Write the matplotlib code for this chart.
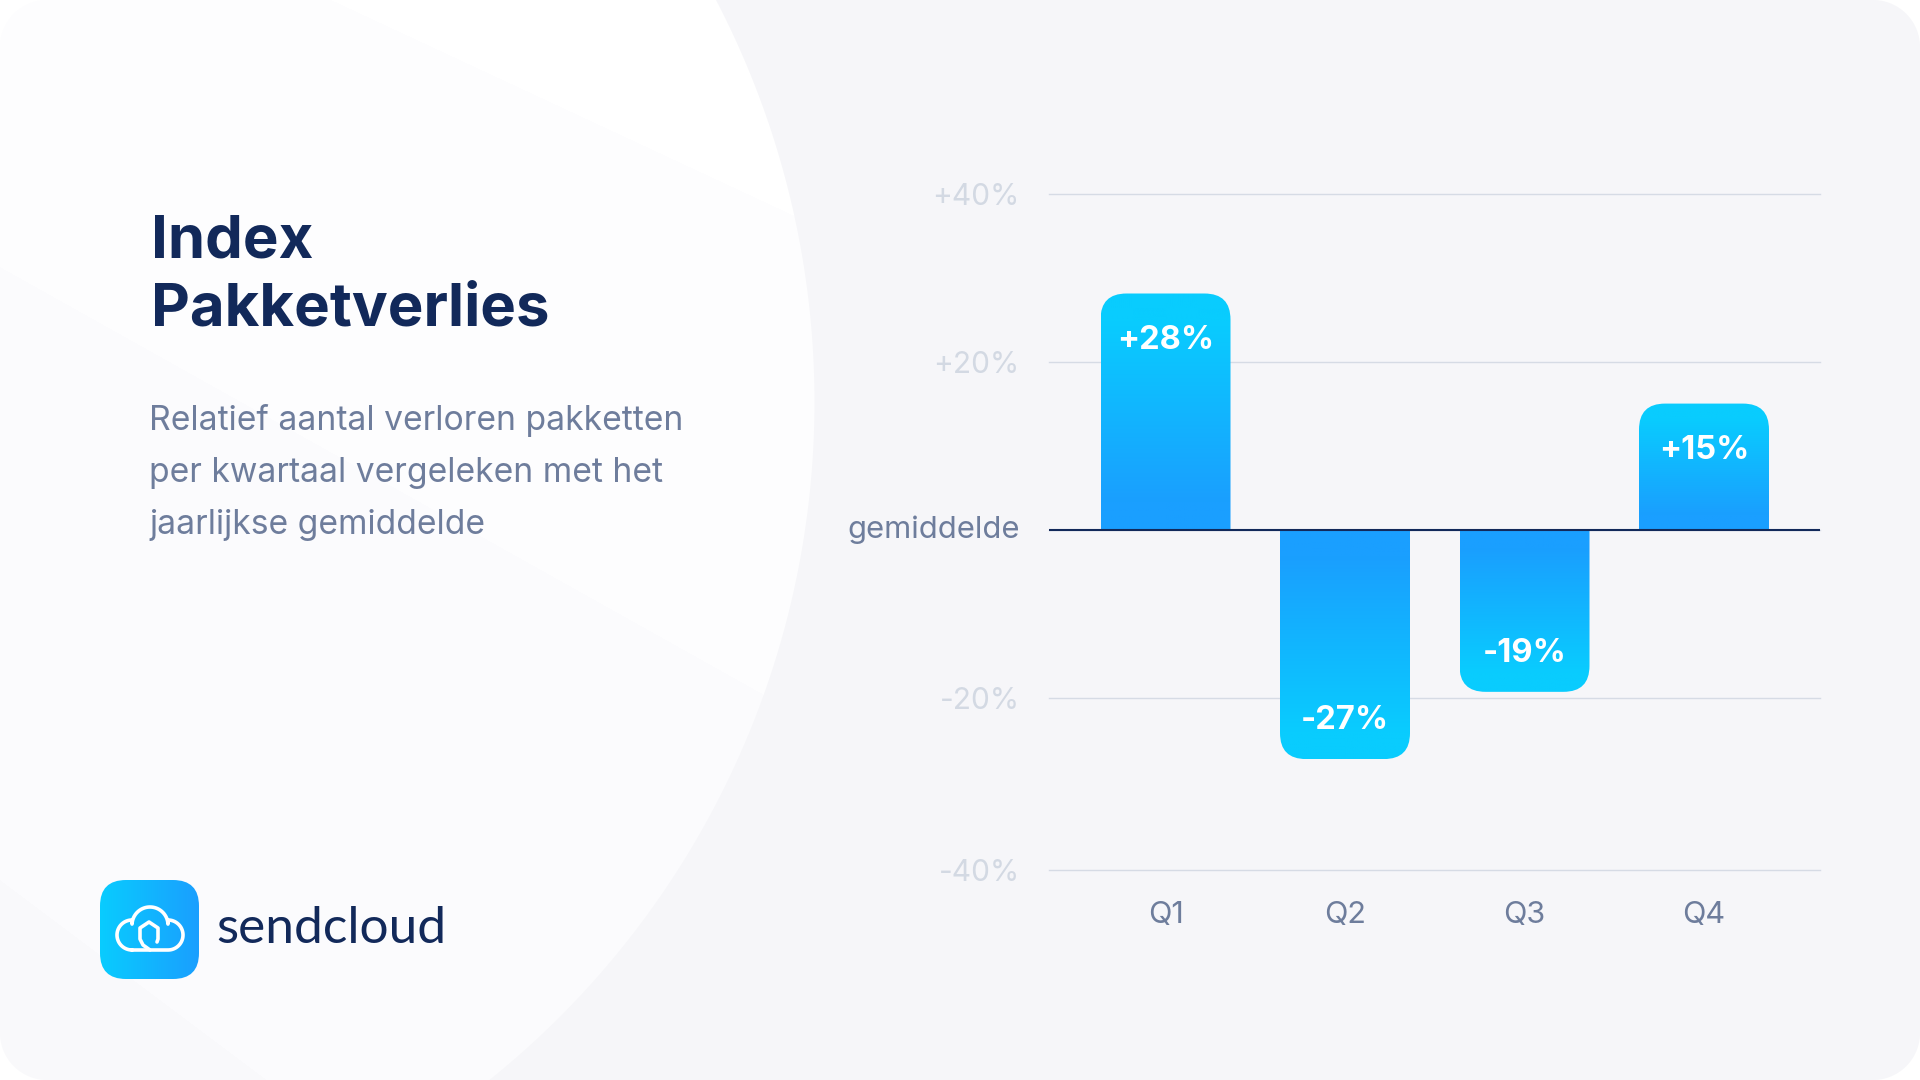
import numpy as np
import matplotlib
matplotlib.use('Agg')
import matplotlib.pyplot as plt
from matplotlib.colors import to_rgb
from matplotlib.patches import FancyBboxPatch, PathPatch
from matplotlib.path import Path

plt.rcParams['font.family'] = ['Inter', 'DejaVu Sans']

# Data
quarters = ['Q1', 'Q2', 'Q3', 'Q4']
bar_values = [28.1, -27.3, -19.3, 15.0]
bar_labels = ['+28%', '-27%', '-19%', '+15%']
# the bottom gridline sits a little lower than -40 in the original
grid_values = [40, 20, 0, -20, -40.5]
grid_labels = ['+40%', '+20%', 'gemiddelde', '-20%', '-40%']

title_lines = ['Index', 'Pakketverlies']
subtitle_lines = ['Relatief aantal verloren pakketten',
                  'per kwartaal vergeleken met het',
                  'jaarlijkse gemiddelde']

NAVY = '#12295A'
SLATE = '#6E7D9C'
PALE = '#D3D9E3'
GRID = '#D6DBE5'
LIGHT_BLUE = np.array(to_rgb('#09CCFE'))
DARK_BLUE = np.array(to_rgb('#1A9FFF'))

W, H = 1920, 1080
fig = plt.figure(figsize=(19.2, 10.8), dpi=100, facecolor='white')


# Background card, big circle and its faint diagonal bands
def make_background():
    yy, xx = np.mgrid[0:H, 0:W] + 0.5
    img = np.ones((H, W, 3)) * np.array(to_rgb('#F6F6F9'))

    disc = np.ones((H, W, 3))
    disc[yy > 33 + 0.466 * (xx - 402)] = to_rgb('#FDFDFE')
    disc[yy > 267 + 0.56 * xx] = to_rgb('#FBFBFD')
    disc[yy > 880 + 0.75 * xx] = to_rgb('#F9F9FB')
    inside = np.clip(869.5 - np.hypot((xx + 55), (yy - 402)) + 0.5, 0, 1)[..., None]
    img = img * (1 - inside) + disc * inside

    r = 47
    qx = np.abs(xx - W / 2) - (W / 2 - r)
    qy = np.abs(yy - H / 2) - (H / 2 - r)
    d = np.hypot(np.maximum(qx, 0), np.maximum(qy, 0)) - r
    card = np.clip(0.5 - d, 0, 1)[..., None]
    return img * card + (1 - card)


page = fig.add_axes([0, 0, 1, 1])
page.imshow(make_background(), extent=(0, W, H, 0), aspect='auto', interpolation='nearest')
page.set_xlim(0, W)
page.set_ylim(H, 0)
page.axis('off')

# Left column text
for line, y in zip(title_lines, [258, 326]):
    page.text(151, y, line, fontsize=43.1, fontweight='bold', color=NAVY, va='baseline')
for line, y in zip(subtitle_lines, [430, 482, 534]):
    page.text(149, y, line, fontsize=24.2, color=SLATE, va='baseline')


# Logo
def arc(cx, cy, r, a0, a1):
    t = np.radians(np.linspace(a0, a1, 40))
    return cx + r * np.cos(t), cy - r * np.sin(t)


logo_box = FancyBboxPatch((100 + 26, 880 + 26), 99 - 52, 99 - 52,
                          boxstyle='round,pad=26,rounding_size=26',
                          transform=page.transData, fc='none', ec='none')
page.add_patch(logo_box)
ramp = np.linspace(0, 1, 128)[None, :, None]
logo_img = page.imshow(LIGHT_BLUE * (1 - ramp) + DARK_BLUE * ramp,
                       extent=(100, 199, 979, 880), aspect='auto')
logo_img.set_clip_path(logo_box)
page.set_xlim(0, W)
page.set_ylim(H, 0)

parts = [arc(132, 935, 15, 270, 90), arc(150, 925, 18, 177, 3), arc(168, 935, 15, 90, -90)]
cloud_x = np.concatenate([p[0] for p in parts] + [[150, 132]])
cloud_y = np.concatenate([p[1] for p in parts] + [[950, 950]])
page.plot(cloud_x, cloud_y, color='white', lw=2.6, solid_capstyle='round')
house_x = [157, 158, 158, 149, 140, 140, 143, 150]
house_y = [942, 939, 928, 922, 928, 939, 945, 950]
page.plot(house_x, house_y, color='white', lw=2.6, solid_joinstyle='round', solid_capstyle='round')
page.text(216, 943, 'sendcloud', fontsize=37, color=NAVY, family='Lato', va='baseline')

# Chart axes
left, right, top, bottom = 1049, 1820, 193.5, 870
ax = fig.add_axes([left / W, 1 - bottom / H, (right - left) / W, (bottom - top) / H])
ax.patch.set_alpha(0)
for s in ax.spines.values():
    s.set_visible(False)

x_pos = np.arange(len(quarters))
ax.set_yticks(grid_values, grid_labels)
ax.set_xticks(x_pos, quarters)
ax.tick_params(axis='both', length=0)
ax.tick_params(axis='y', pad=21, labelsize=21.5)
ax.tick_params(axis='x', pad=22.5, labelsize=22, labelcolor=SLATE)
for lab, txt in zip(ax.get_yticklabels(), grid_labels):
    lab.set_color(SLATE if txt == 'gemiddelde' else PALE)
    if txt == 'gemiddelde':
        lab.set_fontsize(22.3)
        lab.set_va('center')
ax.set_axisbelow(True)
ax.grid(axis='y', color=GRID, lw=1.0)
for g in ax.get_ygridlines():
    g.set_clip_on(False)


def bar_path(x0, x1, v, rx, ry):
    sign = 1 if v > 0 else -1
    far = v - sign * ry
    return Path([(x0, 0), (x0, far), (x0, v), (x0 + rx, v), (x1 - rx, v),
                 (x1, v), (x1, far), (x1, 0), (x0, 0)],
                [Path.MOVETO, Path.LINETO, Path.CURVE3, Path.CURVE3, Path.LINETO,
                 Path.CURVE3, Path.CURVE3, Path.LINETO, Path.CLOSEPOLY])


# one data unit in pixels, for the corner radius and the label offsets
px_x = 179.5
px_y = (bottom - top) / 80.5
bar_w = 130 / px_x
steps = np.clip((np.linspace(0, 1, 200) - 0.12) / 0.76, 0, 1)[:, None, None]

ax.set_xlim((left - 1165.5) / px_x, (right - 1165.5) / px_x)
ax.set_ylim(-40.5, 40)
for x, v, lab in zip(x_pos, bar_values, bar_labels):
    x0, x1 = x - bar_w / 2, x + bar_w / 2
    clip = PathPatch(bar_path(x0, x1, v, 26 / px_x, 26 / px_y), fc='none', ec='none',
                     transform=ax.transData)
    ax.add_patch(clip)
    # image row 0 is the upper edge: far end for positive bars, baseline for negative
    t = steps[::-1] if v > 0 else steps
    im = ax.imshow(DARK_BLUE * (1 - t) + LIGHT_BLUE * t, extent=(x0, x1, min(v, 0), max(v, 0)),
                   aspect='auto', zorder=2, interpolation='bilinear')
    im.set_clip_path(clip)
    offset = -55 if v > 0 else 30
    ax.annotate(lab, (x, v), xytext=(0, offset * 0.72), textcoords='offset points',
                ha='center', va='baseline', color='white', fontsize=23.5,
                fontweight='bold', zorder=4)
ax.set_xlim((left - 1165.5) / px_x, (right - 1165.5) / px_x)
ax.set_ylim(-40.5, 40)

ax.axhline(0, color=NAVY, lw=1.5, zorder=3)

fig.savefig('out.png', dpi=100)
